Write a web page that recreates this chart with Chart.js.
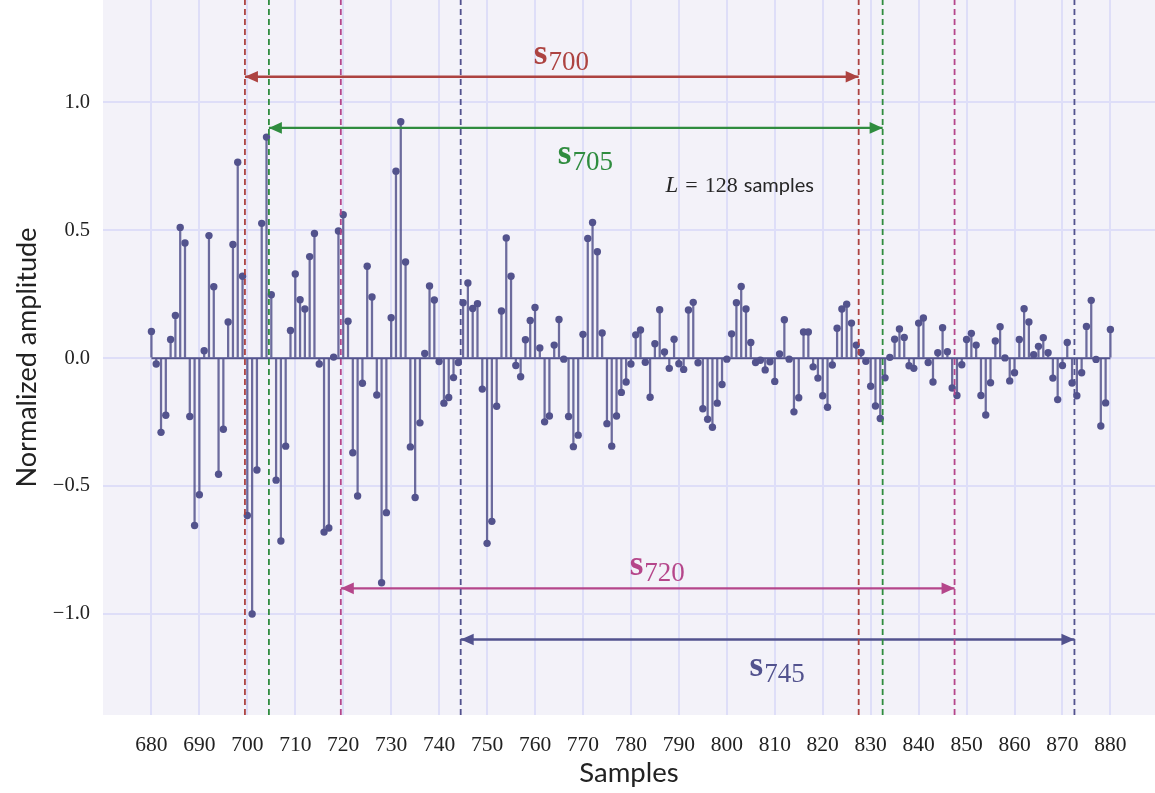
<!DOCTYPE html>
<html><head><meta charset="utf-8">
<script src="https://cdn.jsdelivr.net/npm/chart.js@4.4.1/dist/chart.umd.min.js"></script>
<style>html,body{margin:0;padding:0;background:#fff}</style>
</head><body>
<canvas id="c" width="1155" height="793"></canvas>
<script>
// ---------------- data ----------------
const firstSample = 680;
const amplitudes = [
  // 680-689
  0.104, -0.023, -0.290, -0.223, 0.073, 0.167, 0.511, 0.450, -0.228, -0.654,
  // 690-699
  -0.534, 0.029, 0.479, 0.279, -0.454, -0.278, 0.141, 0.444, 0.766, 0.320,
  // 700-709
  -0.615, -1.000, -0.437, 0.527, 0.864, 0.248, -0.477, -0.715, -0.344, 0.108,
  // 710-719
  0.329, 0.228, 0.192, 0.397, 0.487, -0.023, -0.680, -0.664, 0.004, 0.497,
  // 720-729
  0.561, 0.144, -0.370, -0.539, -0.098, 0.359, 0.239, -0.144, -0.878, -0.604,
  // 730-739
  0.158, 0.731, 0.924, 0.376, -0.347, -0.545, -0.253, 0.018, 0.282, 0.227,
  // 740-749
  -0.013, -0.176, -0.154, -0.076, -0.017, 0.217, 0.294, 0.194, 0.213, -0.121,
  // 750-759
  -0.724, -0.638, -0.188, 0.184, 0.470, 0.320, -0.029, -0.073, 0.072, 0.147,
  // 760-769
  0.198, 0.040, -0.249, -0.226, 0.051, 0.151, -0.004, -0.228, -0.346, -0.301,
  // 770-779
  0.093, 0.468, 0.530, 0.416, 0.098, -0.256, -0.344, -0.226, -0.134, -0.093,
  // 780-789
  -0.023, 0.091, 0.110, -0.016, -0.153, 0.056, 0.189, 0.024, -0.040, 0.074,
  // 790-799
  -0.022, -0.044, 0.188, 0.218, -0.018, -0.198, -0.239, -0.270, -0.176, -0.103,
  // 800-809
  -0.004, 0.095, 0.217, 0.280, 0.192, 0.061, -0.017, -0.008, -0.046, -0.014,
  // 810-819
  -0.091, 0.016, 0.150, -0.004, -0.210, -0.155, 0.102, 0.102, -0.034, -0.078,
  // 820-829
  -0.147, -0.192, -0.027, 0.117, 0.192, 0.211, 0.137, 0.051, 0.022, -0.012,
  // 830-839
  -0.110, -0.187, -0.236, -0.077, 0.003, 0.074, 0.114, 0.081, -0.030, -0.040,
  // 840-849
  0.137, 0.157, -0.017, -0.093, 0.021, 0.119, 0.025, -0.117, -0.146, -0.026,
  // 850-859
  0.073, 0.097, 0.051, -0.146, -0.222, -0.096, 0.067, 0.123, 0.001, -0.089,
  // 860-869
  -0.057, 0.073, 0.193, 0.141, 0.013, 0.046, 0.080, 0.021, -0.078, -0.162,
  // 870-879
  -0.029, 0.061, -0.097, -0.147, -0.057, 0.124, 0.226, -0.005, -0.265, -0.175,
  // 880
  0.112
];
const sampleIndex = amplitudes.map((_, i) => firstSample + i);
const xTicks = [680, 690, 700, 710, 720, 730, 740, 750, 760, 770, 780, 790, 800, 810, 820, 830, 840, 850, 860, 870, 880];
const yTicks = [-1.0, -0.5, 0.0, 0.5, 1.0];
const windowStarts = [700, 705, 720, 745];
const windowLength = 128;
const windowNames = ['700', '705', '720', '745'];
const arrowLevels = [1.1, 0.9, -0.9, -1.1];

// ---------------- styles ----------------
const X_MIN = 669.9, X_MAX = 889.3, Y_MIN = -1.395, Y_MAX = 1.4;
const stemColor = '#53538d';
const windowColors = ['#ad4341', '#2f8c3f', '#b5468b', '#52528e'];
const labelAbove = [true, false, true, false];
const bgColor = '#f3f2f9';
const gridColor = '#dedef8';
const serif = "'Liberation Serif', 'DejaVu Serif', serif";
const sans = "'Lato', 'Noto Sans', sans-serif";

// ---------------- datasets ----------------
const datasets = [];
datasets.push({
  type: 'bar',
  data: sampleIndex.map((x, i) => ({ x: x, y: [0, amplitudes[i]] })),
  backgroundColor: 'rgba(83,83,141,0.85)',
  borderWidth: 0,
  barThickness: 1.6,
  order: 10
});
datasets.push({
  type: 'line',
  data: [{ x: sampleIndex[0], y: 0 }, { x: sampleIndex[sampleIndex.length - 1], y: 0 }],
  borderColor: stemColor, borderWidth: 2, pointRadius: 0, order: 9
});
datasets.push({
  type: 'line',
  data: sampleIndex.map((x, i) => ({ x: x, y: amplitudes[i] })),
  showLine: false,
  pointRadius: 3.7,
  pointBackgroundColor: stemColor,
  pointBorderWidth: 0,
  order: 8
});
windowStarts.forEach((s, k) => {
  const a = s - 0.5, b = s + windowLength - 0.5;
  [a, b].forEach(xv => {
    datasets.push({
      type: 'line',
      data: [{ x: xv, y: Y_MIN }, { x: xv, y: Y_MAX }],
      borderColor: windowColors[k], borderWidth: 1.8, borderDash: [6, 4],
      pointRadius: 0, order: 3
    });
  });
  datasets.push({
    type: 'line',
    data: [{ x: a, y: arrowLevels[k] }, { x: b, y: arrowLevels[k] }],
    borderColor: windowColors[k], borderWidth: 2.4, pointRadius: 0, order: 4
  });
});

// ---------------- plugins ----------------
const bgPlugin = {
  id: 'bg',
  beforeDraw(chart) {
    const { ctx, chartArea: ca } = chart;
    ctx.save();
    ctx.fillStyle = bgColor;
    ctx.fillRect(ca.left, ca.top, ca.right - ca.left, ca.bottom - ca.top);
    ctx.restore();
  }
};

const annoPlugin = {
  id: 'anno',
  afterDatasetsDraw(chart) {
    const { ctx } = chart;
    const xs = chart.scales.x, ys = chart.scales.y;
    ctx.save();
    windowStarts.forEach((s, k) => {
      const xa = xs.getPixelForValue(s - 0.5);
      const xb = xs.getPixelForValue(s + windowLength - 0.5);
      const y = ys.getPixelForValue(arrowLevels[k]);
      ctx.fillStyle = windowColors[k];
      const L = 13, H = 5.8;
      ctx.beginPath();
      ctx.moveTo(xa, y); ctx.lineTo(xa + L, y - H); ctx.lineTo(xa + L, y + H); ctx.closePath(); ctx.fill();
      ctx.beginPath();
      ctx.moveTo(xb, y); ctx.lineTo(xb - L, y - H); ctx.lineTo(xb - L, y + H); ctx.closePath(); ctx.fill();
      // label
      const cx = xs.getPixelForValue(s - 0.5 + windowLength / 2 + 2);
      const baseY = labelAbove[k] ? y - 13 : y + 36;
      ctx.font = 'bold 35px ' + serif;
      const ws = ctx.measureText('s').width;
      ctx.font = '27px ' + serif;
      const wn = ctx.measureText(windowNames[k]).width;
      const x0 = cx - (ws + wn + 1) / 2;
      ctx.textBaseline = 'alphabetic';
      ctx.textAlign = 'left';
      ctx.font = 'bold 35px ' + serif;
      ctx.fillText('s', x0, baseY);
      ctx.font = '27px ' + serif;
      ctx.fillText(windowNames[k], x0 + ws + 1, baseY + 6);
    });
    // L = 128 samples
    const tx = xs.getPixelForValue(802.7), ty = ys.getPixelForValue(0.681) + 8;
    ctx.fillStyle = '#262626';
    const parts = [
      ['italic 23px ' + serif, 'L', 7],
      ['22px ' + serif, '=', 7],
      ['22px ' + serif, String(windowLength), 6],
      ['20px ' + sans, 'samples', 0]
    ];
    let tot = 0;
    parts.forEach(p => { ctx.font = p[0]; tot += ctx.measureText(p[1]).width + p[2]; });
    let px = tx - tot / 2;
    parts.forEach(p => { ctx.font = p[0]; ctx.fillText(p[1], px, ty); px += ctx.measureText(p[1]).width + p[2]; });
    ctx.restore();
  }
};

const fmt = v => (v < 0 ? '\u2212' : '') + Math.abs(v).toFixed(1);

new Chart(document.getElementById('c'), {
  type: 'scatter',
  data: { datasets },
  options: {
    responsive: false,
    animation: false,
    devicePixelRatio: 1,
    layout: { autoPadding: false, padding: { left: 0, right: 0, top: 0, bottom: 0 } },
    plugins: { legend: { display: false }, tooltip: { enabled: false } },
    scales: {
      x: {
        type: 'linear', min: X_MIN, max: X_MAX, offset: false,
        afterBuildTicks: ax => { ax.ticks = xTicks.map(v => ({ value: v })); },
        afterFit: ax => { ax.height = 78; ax.paddingLeft = 0; ax.paddingRight = 0; },
        grid: { color: gridColor, lineWidth: 2, drawTicks: false, offset: false },
        border: { display: false },
        ticks: { font: { family: serif, size: 21.5 }, color: '#222', padding: 17, maxRotation: 0, autoSkip: false, callback: v => String(v) },
        title: { display: true, text: 'Samples', font: { family: sans, size: 27.5 }, color: '#222', padding: { top: 0, bottom: 3 } }
      },
      y: {
        type: 'linear', min: Y_MIN, max: Y_MAX,
        afterBuildTicks: ax => { ax.ticks = yTicks.map(v => ({ value: v })); },
        afterFit: ax => { ax.width = 103; ax.paddingTop = 0; ax.paddingBottom = 0; },
        grid: { color: gridColor, lineWidth: 2, drawTicks: false },
        border: { display: false },
        ticks: { font: { family: serif, size: 20.5 }, color: '#222', padding: 13, callback: v => fmt(v) },
        title: { display: true, text: 'Normalized amplitude', font: { family: sans, size: 27 }, color: '#222', padding: { top: 11, bottom: 0 } }
      }
    }
  },
  plugins: [bgPlugin, annoPlugin]
});
</script>
</body></html>
